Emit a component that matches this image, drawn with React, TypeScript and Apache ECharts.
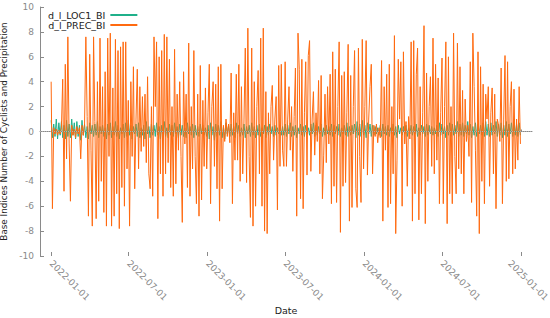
import React, { useEffect, useRef } from "react";
import * as echarts from "echarts";

// Sampled every 3 days starting 2022-01-01
const START_DATE = "2022-01-01";
const STEP_DAYS = 3;

const seriesNames = ["d_l_LOC1_BI", "d_l_PREC_BI"];

const loc1Values = [
  0.9,-0.5,0.6,-0.4,1.0,-0.6,0.7,-0.3,0.8,-0.5,0.5,-0.6,0.9,-0.4,0.6,-0.5,1.0,-0.3,0.7,-0.6,
  0.8,-0.4,0.5,-0.7,0.9,-0.3,0.6,-0.5,0.4,-0.6,0.7,-0.2,0.5,-0.4,0.6,-0.3,0.8,-0.5,0.4,-0.2,
  0.5,-0.4,0.3,-0.6,0.6,-0.3,0.7,-0.5,0.4,-0.3,0.8,-0.4,0.5,-0.6,0.3,-0.2,0.6,-0.5,0.7,-0.4,
  0.9,-0.3,0.5,-0.6,0.4,-0.2,0.6,-0.4,0.7,-0.5,0.3,-0.3,0.5,-0.6,0.8,-0.2,0.4,-0.5,0.6,-0.3,
  0.5,-0.4,0.7,-0.3,0.4,-0.6,0.5,-0.2,0.8,-0.4,0.3,-0.5,0.6,-0.3,0.5,-0.4,0.7,-0.2,0.4,-0.5,
  0.6,-0.3,0.5,-0.4,0.3,-0.5,0.7,-0.2,0.4,-0.3,0.6,-0.5,0.5,-0.3,0.4,-0.4,0.6,-0.2,0.5,-0.3,
  0.3,-0.4,0.5,-0.6,0.7,-0.3,0.4,-0.7,0.6,-0.4,0.5,-0.3,0.8,-0.5,0.4,-0.6,0.7,-0.2,0.5,-0.4,
  0.6,-0.3,0.4,-0.5,0.7,-0.2,0.5,-0.4,0.3,-0.3,0.6,-0.5,0.4,-0.2,0.5,-0.4,0.7,-0.3,0.4,-0.5,
  0.5,-0.3,0.6,-0.4,0.3,-0.2,0.5,-0.5,0.4,-0.3,0.6,-0.2,0.4,-0.4,0.5,-0.3,0.3,-0.2,0.5,-0.3,
  0.4,-0.3,0.6,-0.4,0.5,-0.2,0.7,-0.4,0.4,-0.3,0.5,-0.5,0.3,-0.2,0.6,-0.3,0.4,-0.4,0.5,-0.2,
  0.3,-0.3,0.6,-0.2,0.7,-0.4,0.5,-0.3,0.4,-0.2,0.6,-0.4,0.3,-0.3,0.5,-0.2,0.4,-0.3,0.6,-0.4,
  0.5,-0.2,0.4,-0.3,0.6,-0.4,0.3,-0.2,0.5,-0.3,0.7,-0.4,0.4,-0.3,0.5,-0.2,0.6,-0.5,0.8,-0.3,
  0.6,-0.4,0.9,-0.3,0.5,-0.5,0.7,-0.2,0.6,-0.4,0.5,-0.3,0.4,-0.2,0.3,-0.3,0.5,-0.4,0.6,-0.2,
  0.4,-0.3,0.5,-0.4,0.3,-0.2,0.6,-0.3,0.4,-0.5,0.5,-0.2,0.3,-0.3,0.4,-0.2,0.5,-0.4,0.3,-0.2,
  0.5,-0.3,0.4,-0.2,0.6,-0.4,0.3,-0.3,0.5,-0.2,0.4,-0.4,0.6,-0.3,0.5,-0.2,0.4,-0.3,0.3,-0.2,
  0.5,-0.4,0.7,-0.3,0.6,-0.2,0.4,-0.5,0.5,-0.3,0.7,-0.4,0.6,-0.3,0.5,-0.2,0.8,-0.4,0.6,-0.3,
  0.7,-0.4,0.5,-0.2,0.8,-0.3,0.6,-0.5,0.4,-0.3,0.7,-0.4,0.6,-0.2,0.5,-0.3,0.7,-0.4,0.8,-0.3,
  0.6,-0.4,0.7,-0.3,0.5,-0.2,0.8,-0.4,0.6,-0.3,0.7,-0.5,0.5,-0.3,0.8,-0.4,0.6,-0.2,0.7,-0.4,
  0.8,-0.3,0.6,-0.4,0.7,-0.3,
];

const precValues = [
  // 2022-01 .. 2022-03
  4.0,-6.2,0.3,-0.2,0.2,-0.3,0.1,-0.2,0.3,
  4.2,-4.8,5.4,-2.2,7.6,-1.0,-5.6,0.5,-0.3,0.2,-0.5,0.4,-0.2,0.3,
  -2.2,0.5,-0.3,0.6,
  7.6,1.2,-6.8,6.2,-1.5,-7.6,7.6,0.8,-7.0,4.0,-5.6,7.5,-4.0,3.6,-6.5,4.8,-7.6,7.5,-2.0,7.9,
  -7.6,3.5,-6.8,7.4,-5.0,6.5,-7.8,6.8,-4.5,7.2,-6.0,
  // 2022-06 .. 2022-12
  7.2,-3.0,2.5,-7.6,4.0,-2.0,
  5.2,-4.6,1.0,5.0,-3.0,
  3.6,-1.6,2.8,-1.2,3.0,-2.5,
  4.4,-3.4,-4.6,2.0,-5.2,
  7.6,2.0,7.2,-7.0,6.0,
  -3.4,6.5,-5.2,7.8,-3.4,7.6,-2.5,
  5.8,-4.5,2.0,-5.2,6.6,-4.2,3.0,-1.5,
  4.0,-2.0,-7.3,4.8,-1.0,
  3.0,-4.5,7.1,-5.2,2.0,-3.0,
  6.5,-2.0,-5.8,3.0,-6.8,
  5.3,-5.5,2.5,-2.8,
  // 2023-01 .. 2023-06
  3.5,-3.0,1.5,
  5.4,-5.8,2.0,
  4.0,-2.8,3.8,-4.6,
  5.2,-7.2,5.4,-4.6,
  0.5,-0.8,1.0,-0.4,0.6,-0.9,
  4.7,-5.8,1.5,-2.3,4.6,-2.3,
  5.4,-4.0,3.6,-3.4,1.0,
  6.7,-4.1,8.3,-2.0,-6.9,
  6.7,-7.6,4.0,-6.0,2.0,
  4.9,-3.4,7.5,-6.0,8.3,-8.0,
  3.2,-8.2,1.5,-3.4,2.0,
  3.7,-2.3,1.0,2.8,-6.3,
  5.3,-2.8,5.4,-1.5,-2.8,
  // 2023-07 .. 2023-12
  5.6,-2.8,1.0,
  3.6,-1.5,2.0,-3.2,1.2,
  5.1,-6.8,7.9,5.0,-5.4,
  5.8,-6.2,1.5,5.6,
  -3.5,6.1,7.3,-3.2,1.0,
  3.2,-1.9,1.5,-0.8,
  4.1,-3.4,4.5,-5.4,
  -1.9,3.0,-2.5,3.6,-1.0,
  4.6,-5.8,6.4,-4.4,5.0,
  -5.7,2.0,7.2,-8.1,4.5,
  -4.4,4.8,-4.1,1.5,7.0,
  -7.2,4.5,-6.1,2.0,6.5,-4.6,
  -6.1,6.7,-2.0,-5.7,7.4,-3.0,2.0,
  // 2024-01 .. 2024-06
  7.3,-3.5,1.0,
  3.6,5.4,-3.4,0.5,
  -0.4,0.6,-0.9,0.3,-0.5,
  5.7,-7.2,3.6,-1.5,
  4.6,-6.1,5.4,-5.8,
  2.0,-3.4,7.7,-8.2,
  -2.3,5.8,1.0,5.6,-6.0,6.4,
  -1.0,0.8,-4.4,1.2,-0.6,
  7.2,-7.2,7.3,-5.0,4.6,6.7,
  -7.1,3.6,-5.0,1.5,8.5,
  -7.4,4.7,-4.0,2.0,4.4,
  -2.8,7.5,-3.4,5.4,-2.3,
  4.3,-5.8,1.5,5.9,-5.8,2.0,
  // 2024-07 .. 2024-12
  7.2,-7.4,6.0,-5.0,
  2.0,-5.8,7.9,-2.0,-5.0,7.1,
  -3.0,5.2,-3.4,3.3,-5.0,
  2.6,-0.8,0.5,-2.0,
  5.6,-5.7,7.9,3.6,-1.5,-6.8,
  6.4,-8.2,5.2,-4.0,3.8,
  -5.8,3.0,1.0,3.6,-4.4,1.5,
  3.5,-3.4,3.0,-6.2,1.0,
  0.5,-0.8,5.1,-5.8,1.0,
  6.1,-4.0,5.6,-3.8,2.0,
  4.0,-3.4,3.4,-3.0,1.0,
  -2.3,3.6,-1.0,
];

const yTicks = { min: -10, max: 10, interval: 2 };
const xRange = { min: "2021-12-06", max: "2025-01-27" };
// major tick dates and their label texts
const labelDates = [
  "2022-01-01", "2022-07-01", "2023-01-01", "2023-07-01",
  "2024-01-01", "2024-07-01", "2025-01-01",
];
// where each label text is anchored (the last one is pulled left to stay inside the picture)
const labelAnchors = [
  "2022-01-01", "2022-07-01", "2023-01-01", "2023-07-01",
  "2024-01-01", "2024-07-01", "2024-12-06",
];

const DAY = 86400000;
const ts = (s: string) => {
  const [y, m, d] = s.split("-").map(Number);
  return Date.UTC(y, m - 1, d);
};

export default function App() {
  const ref = useRef<HTMLDivElement>(null);
  useEffect(() => {
    if (!ref.current) return;
    const chart = echarts.init(ref.current, null, { renderer: "svg" });
    const start = ts(START_DATE);
    const toPairs = (vals: number[]) =>
      vals.map((v, i) => [start + i * STEP_DAYS * DAY, v]);
    const monthTicks: number[] = [];
    for (let y = 2022; y <= 2025; y++) {
      for (let m = 0; m < 12; m++) {
        const t = Date.UTC(y, m, 1);
        if (t <= ts("2025-01-01")) monthTicks.push(t);
      }
    }
    const majorTs = labelDates.map(ts);
    const anchorTs = labelAnchors.map(ts);
    const axisGray = "#8a8a8a";
    const font = "DejaVu Sans";
    chart.setOption({
      animation: false,
      backgroundColor: "#ffffff",
      textStyle: { fontFamily: font },
      grid: {
        left: 40,
        right: 18,
        top: 7,
        bottom: 62,
        containLabel: false,
        outerBoundsMode: "none",
      },
      legend: {
        orient: "vertical",
        left: 43,
        top: 5,
        align: "right",
        itemWidth: 27,
        itemHeight: 2,
        itemGap: 0,
        icon: "rect",
        textStyle: {
          fontFamily: font,
          fontSize: 9.5,
          lineHeight: 10,
          color: "#222",
          padding: [0, 0, 0, 0],
        },
        data: seriesNames,
      },
      xAxis: [
        {
          type: "value",
          min: ts(xRange.min),
          max: ts(xRange.max),
          name: "Date",
          nameLocation: "middle",
          nameGap: 49,
          nameMoveOverlap: false,
          nameTextStyle: { color: "#222", fontSize: 9.5, fontFamily: font, lineHeight: 10 },
          axisLine: { lineStyle: { color: axisGray } },
          axisTick: { inside: true, length: 2, customValues: monthTicks, lineStyle: { color: axisGray } },
          axisLabel: {
            customValues: anchorTs,
            rotate: -45,
            color: "#8a8a8a",
            fontSize: 9,
            fontFamily: font,
            margin: 6,
            formatter: (v: number) => {
              const i = anchorTs.indexOf(v);
              return i >= 0 ? labelDates[i] : "";
            },
          },
          splitLine: { show: false },
        },
        {
          type: "value",
          position: "bottom",
          min: ts(xRange.min),
          max: ts(xRange.max),
          axisLine: { show: false },
          axisTick: { show: true, inside: true, length: 4, customValues: majorTs, lineStyle: { color: axisGray } },
          axisLabel: { show: false },
          splitLine: { show: false },
        },
      ],
      yAxis: {
        type: "value",
        min: yTicks.min,
        max: yTicks.max,
        interval: yTicks.interval,
        name: "Base Indices Number of Cyclists and Precipitation",
        nameLocation: "middle",
        nameGap: 27,
        nameTextStyle: { color: "#222", fontSize: 8.8, fontFamily: font },
        axisLine: { show: true, lineStyle: { color: axisGray } },
        axisTick: { show: true, inside: true, length: 4, lineStyle: { color: axisGray } },
        axisLabel: { color: "#8a8a8a", fontSize: 9, fontFamily: font, margin: 6 },
        splitLine: { show: false },
      },
      series: [
        {
          name: seriesNames[0],
          type: "line",
          xAxisIndex: 0,
          data: toPairs(loc1Values),
          showSymbol: false,
          symbol: "none",
          lineStyle: { color: "#1fb08a", width: 1 },
          itemStyle: { color: "#1fb08a" },
          markLine: {
            silent: true,
            symbol: "none",
            label: { show: false },
            lineStyle: { color: "#b0b0b0", type: "dotted", width: 1 },
            data: [{ yAxis: 0 }],
          },
          z: 1,
        },
        {
          name: seriesNames[1],
          type: "line",
          xAxisIndex: 0,
          data: toPairs(precValues),
          showSymbol: false,
          symbol: "none",
          lineStyle: { color: "#ff6a10", width: 1 },
          itemStyle: { color: "#ff6a10" },
          z: 2,
        },
      ],
    });
    return () => chart.dispose();
  }, []);
  return (
    <div
      ref={ref}
      style={{ position: "fixed", left: 0, top: 0, width: 550, height: 318 }}
    />
  );
}
